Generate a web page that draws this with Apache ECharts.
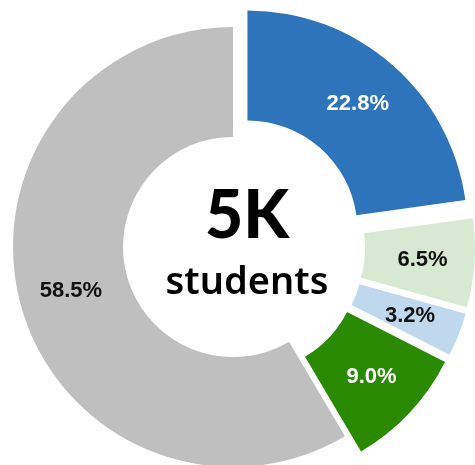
<!DOCTYPE html>
<html><head><meta charset="utf-8">
<script src="https://cdn.jsdelivr.net/npm/echarts@6/dist/echarts.min.js"></script>
<style>html,body{margin:0;padding:0;background:#fff}#c{width:475px;height:465px}</style>
</head><body><div id="c"></div>
<script>
const categories = ['A', 'B', 'C', 'D', 'E'];
const values = [22.8, 6.5, 3.2, 9.0, 58.5];
const exploded = [true, true, true, true, false];
const colors = ['#2E74BA', '#D8E9D3', '#C0D8EE', '#298A00', '#BFBFBF'];
const labelColors = ['#ffffff', '#111111', '#111111', '#ffffff', '#111111'];
const centerBig = '5K';
const centerSmall = 'students';

const chart = echarts.init(document.getElementById('c'), null, {renderer: 'canvas'});
chart.setOption({
  animation: false,
  graphic: [
    {type: 'text', style: {text: centerBig, x: 247, y: 217, textAlign: 'center', textVerticalAlign: 'middle', font: '900 66px Lato', fill: '#000'}},
    {type: 'text', style: {text: centerSmall, x: 247, y: 283, textAlign: 'center', textVerticalAlign: 'middle', font: '600 38px "Noto Sans"', fill: '#000'}}
  ],
  series: [{
    type: 'pie',
    center: [233, 247],
    radius: [110, 220],
    startAngle: 90,
    clockwise: true,
    selectedMode: 'multiple',
    selectedOffset: 22,
    emphasis: {disabled: true},
    labelLine: {show: false},
    label: {
      show: true,
      position: 'inside',
      formatter: p => p.value.toFixed(1) + '%',
      fontFamily: '"Liberation Sans Narrow", "Liberation Sans", Arial, sans-serif',
      fontWeight: 'bold',
      fontSize: 22
    },
    data: categories.map((c, i) => ({
      name: c,
      value: values[i],
      selected: exploded[i],
      itemStyle: {color: colors[i]},
      label: {color: labelColors[i]},
      select: {itemStyle: {color: colors[i]}, label: {color: labelColors[i]}}
    }))
  }]
});
</script></body></html>
